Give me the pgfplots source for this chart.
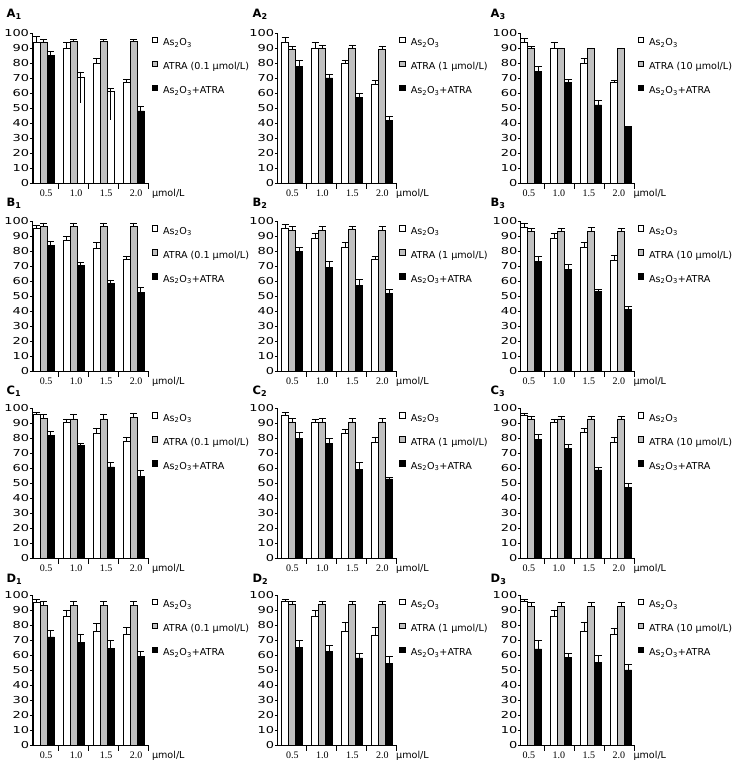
\documentclass[border=0pt]{standalone}
\usepackage{fontspec}
\setmainfont{DejaVu Sans}
\newfontfamily\ytfont[FakeStretch=1.35]{DejaVu Sans}
\newfontfamily\xtfont{Liberation Serif}
\usepackage{pgfplots}
\pgfplotsset{compat=1.18}
\usepackage{pgfplotstable}
\definecolor{barGray}{RGB}{192,192,192}

% k: dose group (0.5,1.0,1.5,2.0); w/we: As2O3; g/ge: ATRA; b/be: As2O3+ATRA
\pgfplotstableread{
k w we g ge b be
0 94 3.5 94 1.5 85 3
1 90 3.8 94.5 1.2 70.5 3.5
2 80 3.3 94.5 1.2 61 2
3 67 2 94.5 1.2 48 3.3
}\tAa
\pgfplotstableread{
k w we g ge b be
0 94 3 89 2 77.5 4
1 90 3.5 90 1.5 70 2.5
2 80 2 90 1.5 57 2.5
3 66 2.5 89 2 41.5 3
}\tAb
\pgfplotstableread{
k w we g ge b be
0 94 2.5 89.5 1.5 74.5 3
1 89.5 4 89.5 0.5 67 2
2 79.5 3.5 89.5 0.5 52 3
3 67 1.5 89.5 0.5 37 0.5
}\tAc
\pgfplotstableread{
k w we g ge b be
0 95.5 2 96.5 2.5 84 3
1 87.5 2.5 96.5 2.5 70.5 2.5
2 82 4 96.5 2.5 58.5 2.5
3 74.5 2.5 96.5 2.5 52.5 3.5
}\tBa
\pgfplotstableread{
k w we g ge b be
0 95.5 2.5 94 2.5 80 2.5
1 88.5 3.5 94 2.5 69.5 4
2 83 3 95 1.5 57.5 4
3 74.5 2 94 2.5 52 2.5
}\tBb
\pgfplotstableread{
k w we g ge b be
0 96 2.5 93.5 2 73.5 3.5
1 88.5 3.5 93.5 2 68 3.5
2 82.5 3.5 93.5 2.5 53.5 1.5
3 74 3.5 93.5 2 41.5 2
}\tBc
\pgfplotstableread{
k w we g ge b be
0 96 1.5 93.5 2.5 82 2.5
1 91 2 93 3 75.5 1.5
2 83.5 3.5 93 3 61 3
3 78 3 94 2.5 54.5 4.5
}\tCa
\pgfplotstableread{
k w we g ge b be
0 95.5 2 91 2.5 80 4
1 90.5 2.5 91 2.5 76.5 3.5
2 83.5 2.5 91 2.5 59.5 4.5
3 77.5 3.5 91 2.5 53 1
}\tCb
\pgfplotstableread{
k w we g ge b be
0 95.5 1.5 93 2 79.5 3
1 91 2 93 1.5 73.5 2.5
2 84 2.5 93 2 59 1.5
3 77.5 3.5 93 2 47.5 2.5
}\tCc
\pgfplotstableread{
k w we g ge b be
0 95 2 93 2.5 72 4.5
1 86 4 93 3 68.5 5.5
2 76 5 93 2.5 64.5 5
3 73.5 5 93 2.5 59 3.5
}\tDa
\pgfplotstableread{
k w we g ge b be
0 95.5 1.5 94 1.5 65 4.5
1 86 3.5 94 1.5 62.5 4
2 76 6 94 1.5 58 3
3 73 5.5 94 1.5 54.5 4.5
}\tDb
\pgfplotstableread{
k w we g ge b be
0 95.5 1.5 92.5 2.5 64 5.5
1 85.5 4.5 92.5 2.5 58.5 2.5
2 76 6 92.5 2.5 55 4.5
3 73.5 4.5 92.5 2.5 50 4
}\tDc
% A1: the two bars drawn unfilled in the original
\pgfplotstableread{
k b be
1 70.5 3.5
2 61 2
}\tAaX

\pgfplotsset{
  base/.style={
    scale only axis, anchor=south west, height=150bp,
    xmin=0, ymin=0, ymax=100,
    axis lines*=left,
    axis line style={line width=0.6bp, black},
    tick style={black, line width=0.6bp},
    minor tick style={black, line width=0.6bp},
    major tick length=2.5bp, minor tick length=-6bp,
    ytick={0,10,...,100}, ytick align=outside,
    yticklabel style={font=\ytfont\fontsize{9.6bp}{10bp}\selectfont, inner sep=0.6bp},
    /pgf/number format/assume math mode=true,
    major x tick style={draw=none},
    xticklabels={0.5,1.0,1.5,2.0},
    xticklabel style={font=\xtfont\fontsize{10bp}{11bp}\selectfont, anchor=base, yshift=-13.5bp, inner sep=0pt},
    xlabel={µmol/L},
    every axis x label/.style={at={(axis description cs:1,0)}, anchor=base west, yshift=-13.5bp, inner sep=0pt, font=\fontsize{9.6bp}{11bp}\selectfont},
    legend style={at={(1,1)}, anchor=north west, xshift=3bp, yshift=-3.4bp,
      draw=none, fill=none, inner sep=0pt, row sep=13bp, column sep=5.3bp,
      font=\fontsize{9.6bp}{11bp}\selectfont,
      nodes={inner sep=0pt, text height=7bp, text depth=2bp}},
    legend cell align=left,
    clip=false,
  },
  col1/.style={width=116bp, xmax=3.867, xtick={0.46,1.46,2.46,3.46}, minor xtick={0.867,1.867,2.867,3.867}, x label style={xshift=3.5bp}},
  col2/.style={width=118.7bp, xmax=3.957, xtick={0.5,1.5,2.5,3.5}, minor xtick={0.957,1.957,2.957,3.957}, x label style={xshift=0bp}},
  col3/.style={width=113.6bp, xmax=3.787, xtick={0.27,1.27,2.27,3.27}, minor xtick={0.787,1.787,2.787,3.787}, x label style={xshift=-1bp}},
  bstyle/.style={ybar, bar width=0.233, bar shift=0pt, draw=black, line width=0.6bp,
    legend image code/.code={\draw[##1, line width=0.6bp, draw=black] (0bp,0.55bp) rectangle (5.7bp,6.25bp);},
    error bars/y dir=plus, error bars/y explicit,
    error bars/error mark=|,
    error bars/error bar style={line width=0.6bp, black, solid},
    error bars/error mark options={line width=0.6bp, black, mark size=3.5bp}},
}

% #1 x, #2 y, #3 column style, #4 table, #5 ATRA dose, #6 bar offset, #7 extra content
\newcommand{\panel}[7]{%
  \begin{axis}[base, #3, at={(#1bp,#2bp)}]
  \addplot[bstyle, fill=white] table[x expr=\thisrow{k}+#6+0.117, y=w, y error=we]{#4};
  \addplot[bstyle, fill=barGray] table[x expr=\thisrow{k}+#6+0.35, y=g, y error=ge]{#4};
  \addplot[bstyle, fill=black] table[x expr=\thisrow{k}+#6+0.583, y=b, y error=be]{#4};
  \legend{As\textsubscript{2}O\textsubscript{3}, ATRA (#5 µmol/L), As\textsubscript{2}O\textsubscript{3}+ATRA}
  #7
  \end{axis}%
}

\begin{document}
\begin{tikzpicture}
\useasboundingbox (0,0) rectangle (737bp,769bp);
\tikzset{plabel/.style={anchor=base west, inner sep=0pt, font=\bfseries\fontsize{11.5bp}{12bp}\selectfont}}

\panel{32.3}{586}{col1}{\tAa}{0.1}{0.033}{%
  \addplot[bstyle, fill=white, forget plot] table[x expr=\thisrow{k}+0.033+0.583, y=b, y error=be]{\tAaX};
  \addplot[black, line width=0.6bp, forget plot] coordinates {(1.616,74) (1.616,53)};
  \addplot[black, line width=0.6bp, forget plot] coordinates {(2.616,63) (2.616,42)};
}
\panel{277.3}{586}{col2}{\tAb}{1}{0.147}{}
\panel{520.7}{586}{col3}{\tAc}{10}{0}{}

\panel{32.3}{397.5}{col1}{\tBa}{0.1}{0.033}{}
\panel{277.3}{397.5}{col2}{\tBb}{1}{0.147}{}
\panel{520.7}{397.5}{col3}{\tBc}{10}{0}{}

\panel{32.3}{210.5}{col1}{\tCa}{0.1}{0.033}{}
\panel{277.3}{210.5}{col2}{\tCb}{1}{0.147}{}
\panel{520.7}{210.5}{col3}{\tCc}{10}{0}{}

\panel{32.3}{24}{col1}{\tDa}{0.1}{0.033}{}
\panel{277.3}{24}{col2}{\tDb}{1}{0.147}{}
\panel{520.7}{24}{col3}{\tDc}{10}{0}{}

\node[plabel] at (6.5bp,751bp) {A\textsubscript{1}};
\node[plabel] at (252.5bp,751bp) {A\textsubscript{2}};
\node[plabel] at (490.5bp,751bp) {A\textsubscript{3}};
\node[plabel] at (6.5bp,562.5bp) {B\textsubscript{1}};
\node[plabel] at (252.5bp,562.5bp) {B\textsubscript{2}};
\node[plabel] at (490.5bp,562.5bp) {B\textsubscript{3}};
\node[plabel] at (6.5bp,374bp) {C\textsubscript{1}};
\node[plabel] at (252.5bp,374bp) {C\textsubscript{2}};
\node[plabel] at (490.5bp,374bp) {C\textsubscript{3}};
\node[plabel] at (6.5bp,186bp) {D\textsubscript{1}};
\node[plabel] at (252.5bp,186bp) {D\textsubscript{2}};
\node[plabel] at (490.5bp,186bp) {D\textsubscript{3}};
\end{tikzpicture}
\end{document}
